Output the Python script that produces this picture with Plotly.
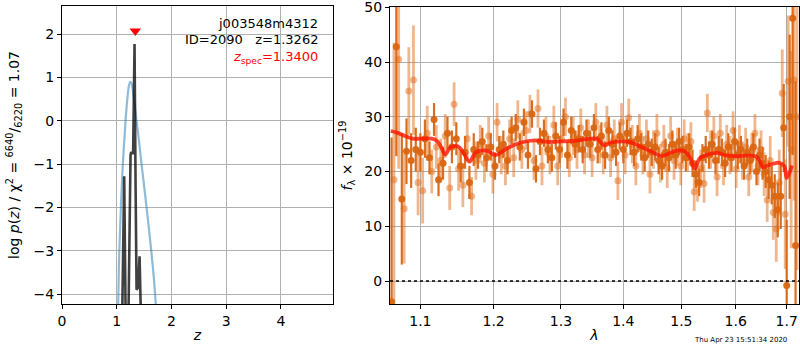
import math
import plotly.graph_objects as go

# ---- left panel: p(z) ----
z_pz = [1.00, 1.028, 1.046, 1.077, 1.113, 1.162, 1.198, 1.225, 1.25, 1.275, 1.30, 1.33, 1.363,
        1.41, 1.454, 1.50, 1.545, 1.59, 1.636, 1.68, 1.715, 1.74]
logp_pz = [-6.0, -4.23, -3.06, -1.98, -0.99, 0.0, 0.55, 0.82, 0.9, 0.85, 0.65, 0.35, 0.0,
           -0.5, -1.0, -1.5, -2.0, -2.5, -3.06, -3.65, -4.23, -4.6]

z_chi = [1.08, 1.101, 1.137, 1.18, 1.20, 1.215, 1.245, 1.253, 1.265, 1.28, 1.30, 1.326, 1.345,
         1.363, 1.39, 1.418, 1.442, 1.46]
logp_chi = [-9, -4.5, -1.28, -4.5, -9, -4.5, -1.0, -0.79, -0.72, -0.75, -0.75, 1.77, -1.5,
            -3.9, -3.85, -3.13, -4.5, -9]

z_spec = 1.34
z_spec_marker_y = 2.07

# ---- right panel: spectrum ----
lam_a = [1.063, 1.069, 1.076, 1.082, 1.088, 1.094, 1.100, 1.106, 1.112, 1.118, 1.124, 1.130,
         1.136, 1.142, 1.148, 1.154, 1.160, 1.166, 1.172, 1.178, 1.184, 1.190, 1.196, 1.202,
         1.208, 1.214, 1.220, 1.226, 1.232, 1.238, 1.244, 1.250, 1.256, 1.262, 1.268, 1.274,
         1.280, 1.286, 1.292, 1.298, 1.304, 1.310, 1.316, 1.322, 1.328, 1.334, 1.340, 1.346,
         1.352, 1.358, 1.364, 1.370, 1.376, 1.382, 1.388, 1.394, 1.400, 1.406, 1.412, 1.418,
         1.424, 1.430, 1.436, 1.442, 1.448, 1.454, 1.460, 1.466, 1.472, 1.478, 1.484, 1.490,
         1.496, 1.502, 1.508, 1.514, 1.520, 1.526, 1.532, 1.538, 1.544, 1.550, 1.556, 1.562,
         1.568, 1.574, 1.580, 1.586, 1.592, 1.598, 1.604, 1.610, 1.616, 1.622, 1.628, 1.634,
         1.640, 1.646, 1.652, 1.658, 1.664, 1.670, 1.676, 1.682, 1.688, 1.694, 1.700, 1.706,
         1.712, 1.718]
flux_a = [-3.8, 42.8, 15.0, 23.7, 22.0, 24.0, 23.5, 26.0, 22.5, 29.5, 18.5, 21.5,
          27.0, 24.5, 26.0, 21.0, 23.5, 18.0, 24.0, 23.0, 25.5, 22.5, 24.5, 21.0,
          24.0, 25.0, 22.0, 27.5, 28.0, 24.5, 29.0, 23.0, 30.5, 20.5, 25.5, 27.0,
          24.0, 22.5, 26.5, 24.0, 29.0, 23.0, 27.5, 25.0, 26.0, 24.0, 27.0, 25.0,
          28.0, 24.0, 26.5, 23.0, 27.5, 25.0, 23.5, 26.5, 24.0, 27.0, 25.5, 23.5,
          26.0, 24.5, 22.5, 25.0, 23.5, 24.5, 22.0, 21.0, 23.5, 22.5, 25.0, 23.0,
          25.5, 24.0, 22.5, 24.5, 21.5, 19.5, 18.0, 22.5, 24.0, 23.0, 25.0, 22.0,
          24.0, 23.5, 21.5, 24.5, 22.5, 25.5, 23.0, 24.0, 21.0, 23.5, 22.0, 24.5,
          20.0, 23.0, 21.5, 20.0, 18.5, 17.5, 15.5, 13.0, 15.5, 28.0, -0.8, 30.0,
          48.0, 6.5]
err_a = [30, 20, 12, 6, 5, 4, 3.5, 3.5, 3, 3, 3, 3,
         3, 3, 3, 3, 3, 3, 3, 2.5, 2.5, 2.5, 2.5, 2.5,
         2.5, 2.5, 2.5, 2.5, 2.5, 2.5, 2.5, 2.5, 2.5, 2.5, 2.5, 2.5,
         2.5, 2.5, 2.5, 2.5, 2.5, 2.5, 2.5, 2.5, 2.5, 2.5, 2.5, 2.5,
         2.5, 2.5, 2.5, 2.5, 2.5, 2.5, 2.5, 2.5, 2.5, 2.5, 2.5, 2.5,
         2.5, 2.5, 2.5, 2.5, 2.5, 2.5, 2.5, 2.5, 2.5, 2.5, 2.5, 2.5,
         2.5, 2.5, 2.5, 2.5, 2.5, 2.5, 2.5, 2.5, 2.5, 2.5, 2.5, 2.5,
         2.5, 2.5, 2.5, 2.5, 2.5, 2.5, 2.5, 2.5, 2.5, 2.5, 2.5, 2.5,
         2.5, 3, 3, 3, 3.5, 3.5, 4, 5, 6, 8, 12, 15,
         25, 30]

lam_b = [1.066, 1.072, 1.079, 1.085, 1.091, 1.097, 1.103, 1.109, 1.115, 1.121, 1.127, 1.133,
         1.139, 1.145, 1.151, 1.157, 1.163, 1.169, 1.175, 1.181, 1.187, 1.193, 1.199, 1.205,
         1.211, 1.217, 1.223, 1.229, 1.235, 1.241, 1.247, 1.253, 1.259, 1.265, 1.271, 1.277,
         1.283, 1.289, 1.295, 1.301, 1.307, 1.313, 1.319, 1.325, 1.331, 1.337, 1.343, 1.349,
         1.355, 1.361, 1.367, 1.373, 1.379, 1.385, 1.391, 1.397, 1.403, 1.409, 1.415, 1.421,
         1.427, 1.433, 1.439, 1.445, 1.451, 1.457, 1.463, 1.469, 1.475, 1.481, 1.487, 1.493,
         1.499, 1.505, 1.511, 1.517, 1.523, 1.529, 1.535, 1.541, 1.547, 1.553, 1.559, 1.565,
         1.571, 1.577, 1.583, 1.589, 1.595, 1.601, 1.607, 1.613, 1.619, 1.625, 1.631, 1.637,
         1.643, 1.649, 1.655, 1.661, 1.667, 1.673, 1.679, 1.685, 1.691, 1.697, 1.703, 1.709,
         1.715, 1.721]
flux_b = [18.5, 40.5, 13.2, 34.7, 36.7, 18.0, 16.5, 27.0, 20.0, 24.5, 22.0, 26.5,
          17.0, 32.3, 20.5, 17.5, 26.0, 15.5, 22.0, 25.0, 21.5, 26.5, 19.5, 29.0,
          23.0, 21.0, 26.0, 22.5, 29.5, 24.0, 27.5, 30.5, 22.0, 31.5, 21.0, 26.5,
          23.0, 28.5, 21.0, 26.0, 30.0, 22.5, 26.5, 24.0, 28.0, 23.0, 26.0, 22.5,
          29.0, 25.0, 23.0, 28.5, 22.5, 26.0, 18.3, 29.0, 23.0, 29.8, 25.0, 21.0,
          27.0, 23.0, 26.0, 19.5, 24.0, 27.0, 21.5, 25.0, 20.5, 26.5, 22.0, 24.5,
          21.0, 26.0, 23.5, 25.5, 16.3, 18.0, 20.5, 17.8, 30.7, 24.0, 26.5, 19.0,
          27.0, 21.0, 25.0, 23.0, 27.5, 20.5, 25.0, 22.0, 24.5, 19.0, 23.5, 27.0,
          21.0, 24.0, 19.5, 14.8, 22.0, 12.5, 9.5, 18.0, 34.3, 12.2, 36.5, 24.0,
          36.7, 30.0]
err_b = [25, 20, 10, 8, 10, 6, 6, 5, 4, 4, 4, 4,
         4, 4, 4, 4, 4, 3.5, 3.5, 3.5, 3.5, 3.5, 3.5, 3.5,
         3.5, 3.5, 3.5, 3.5, 3.5, 3.5, 3.5, 3.5, 3.5, 3.5, 3.5, 3.5,
         3.5, 3.5, 3.5, 3.5, 3.5, 3.5, 3.5, 3.5, 3.5, 3.5, 3.5, 3.5,
         3.5, 3.5, 3.5, 3.5, 3.5, 3.5, 3.5, 3.5, 3.5, 3.5, 3.5, 3.5,
         3.5, 3.5, 3.5, 3.5, 3.5, 3.5, 3.5, 3.5, 3.5, 3.5, 3.5, 3.5,
         3.5, 3.5, 3.5, 3.5, 3.5, 3.5, 3.5, 3.5, 3.5, 3.5, 3.5, 3.5,
         3.5, 3.5, 3.5, 3.5, 3.5, 3.5, 3.5, 3.5, 3.5, 3.5, 3.5, 3.5,
         3.5, 3.5, 4, 4, 4.5, 5, 6, 6, 8, 10, 12, 18,
         22, 28]

lam_model = [1.062, 1.070, 1.080, 1.090, 1.100, 1.115, 1.122, 1.128, 1.133, 1.140, 1.150, 1.157,
             1.166, 1.175, 1.190, 1.203, 1.220, 1.240, 1.260, 1.280, 1.300, 1.320, 1.340, 1.357,
             1.368, 1.380, 1.400, 1.410, 1.430, 1.450, 1.465, 1.478, 1.492, 1.505, 1.515, 1.524,
             1.533, 1.548, 1.565, 1.580, 1.600, 1.620, 1.640, 1.647, 1.653, 1.665, 1.685, 1.695,
             1.700, 1.711]
flux_model = [27.4, 27.1, 26.5, 26.0, 26.0, 26.0, 25.6, 24.3, 23.1, 24.4, 24.6, 23.6,
              21.8, 23.5, 23.8, 23.0, 24.3, 25.3, 25.7, 25.4, 25.5, 25.6, 25.9, 26.0,
              24.8, 25.3, 25.5, 25.4, 24.5, 23.5, 22.8, 23.3, 23.8, 23.7, 22.7, 20.5,
              22.4, 23.1, 23.4, 23.0, 22.8, 22.9, 22.7, 21.8, 20.8, 21.2, 21.6, 21.0,
              18.8, 21.1]

timestamp = "Thu Apr 23 15:51:34 2020"

FONT = "DejaVu Sans"
GRID = "#b0b0b0"
dark = "rgba(217,102,18,0.95)"
light = "rgba(226,112,30,0.5)"

fig = go.Figure()

# left panel traces
fig.add_trace(go.Scatter(x=z_pz, y=logp_pz, mode="lines", line=dict(color="rgba(31,119,180,0.5)", width=2.2, shape="spline"),
                         xaxis="x", yaxis="y", showlegend=False, hoverinfo="skip"))
fig.add_trace(go.Scatter(x=z_chi, y=logp_chi, mode="lines", line=dict(color="rgba(0,0,0,0.75)", width=2.6),
                         xaxis="x", yaxis="y", showlegend=False, hoverinfo="skip"))
fig.add_trace(go.Scatter(x=[z_spec], y=[z_spec_marker_y], mode="markers",
                         marker=dict(symbol="triangle-down", color="red", size=10, line=dict(width=0)),
                         xaxis="x", yaxis="y", showlegend=False, hoverinfo="skip"))

# right panel traces
fig.add_trace(go.Scatter(x=lam_b, y=flux_b, mode="markers",
                         marker=dict(color=light, size=7, line=dict(width=0)),
                         error_y=dict(type="data", array=err_b, color=light, thickness=2.8, width=0),
                         xaxis="x2", yaxis="y2", showlegend=False, hoverinfo="skip"))
fig.add_trace(go.Scatter(x=lam_a, y=flux_a, mode="markers",
                         marker=dict(color=dark, size=7, line=dict(width=0)),
                         error_y=dict(type="data", array=err_a, color=dark, thickness=2.2, width=0),
                         xaxis="x2", yaxis="y2", showlegend=False, hoverinfo="skip"))
fig.add_trace(go.Scatter(x=lam_model, y=flux_model, mode="lines",
                         line=dict(color="rgba(255,20,0,0.8)", width=3.8, shape="spline"),
                         xaxis="x2", yaxis="y2", showlegend=False, hoverinfo="skip"))

axis_common = dict(showline=True, linecolor="black", linewidth=1.2, mirror=True,
                   ticks="outside", ticklen=4, tickwidth=1, tickcolor="black",
                   showgrid=True, gridcolor=GRID, gridwidth=1, zeroline=False,
                   ticklabeloverflow="allow", automargin=False,
                   tickfont=dict(family=FONT, size=14, color="black"))

fig.update_layout(
    width=800, height=350,
    margin=dict(l=0, r=0, t=0, b=0),
    paper_bgcolor="white", plot_bgcolor="white",
    font=dict(family=FONT, size=13, color="black"),
    xaxis=dict(domain=[0.0775, 0.416], range=[0, 4.95], tickvals=[0, 1, 2, 3, 4],
               title=dict(text="<i>z</i>", font=dict(size=14), standoff=2), anchor="y", **axis_common),
    yaxis=dict(domain=[0.1314, 0.983], range=[-4.23, 2.65], tickvals=[-4, -3, -2, -1, 0, 1, 2],
               ticktext=["\u22124", "\u22123", "\u22122", "\u22121", "0", "1", "2"],
               title=dict(text="log <i>p</i>(<i>z</i>) / χ<sup>2</sup> = <sup>6640</sup>/<sub>6220</sub> = 1.07",
                          font=dict(size=14), standoff=10), anchor="x", **axis_common),
    xaxis2=dict(domain=[0.4875, 0.99875], type="log", range=[math.log10(1.061), math.log10(1.725)],
                tickvals=[1.1, 1.2, 1.3, 1.4, 1.5, 1.6, 1.7], ticktext=["1.1", "1.2", "1.3", "1.4", "1.5", "1.6", "1.7"],
                title=dict(text="<i>λ</i>", font=dict(size=14), standoff=2), anchor="y2", **axis_common),
    yaxis2=dict(domain=[0.1314, 0.98], range=[-4.2, 50.05], tickvals=[0, 10, 20, 30, 40, 50],
                title=dict(text="<i>f</i><sub>λ</sub> × 10<sup>−19</sup>", font=dict(size=14), standoff=8),
                anchor="x2", **axis_common),
    shapes=[dict(type="line", xref="x2 domain", yref="y2", x0=0, x1=1, y0=0, y1=0,
                 line=dict(color="black", width=1.5, dash="dot"))],
    annotations=[
        dict(text="j003548m4312", xref="paper", yref="paper", x=320 / 800, y=1 - 23 / 350,
             xanchor="right", yanchor="middle", showarrow=False, font=dict(size=13, color="black")),
        dict(text="ID=2090   z=1.3262", xref="paper", yref="paper", x=320 / 800, y=1 - 39 / 350,
             xanchor="right", yanchor="middle", showarrow=False, font=dict(size=13, color="black")),
        dict(text="<i>z</i><sub>spec</sub>=1.3400", xref="paper", yref="paper", x=320 / 800, y=1 - 58 / 350,
             xanchor="right", yanchor="middle", showarrow=False, font=dict(size=13, color="red")),
        dict(text=timestamp, xref="paper", yref="paper", x=789 / 800, y=1 - 340 / 350,
             xanchor="right", yanchor="middle", showarrow=False, font=dict(size=7, color="black")),
    ],
)

fig.write_html("out.html")
